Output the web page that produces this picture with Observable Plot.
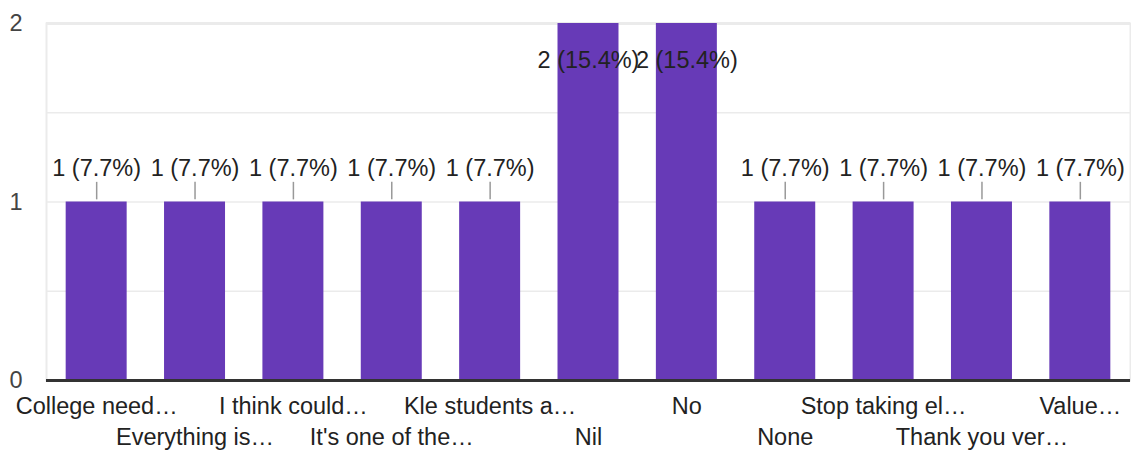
<!DOCTYPE html>
<html>
<head>
<meta charset="utf-8">
<script src="https://cdn.jsdelivr.net/npm/d3@7"></script>
<script src="https://cdn.jsdelivr.net/npm/@observablehq/plot@0.6"></script>
<style>
  html, body { margin: 0; padding: 0; background: #fff; }
  svg { display: block; }
</style>
</head>
<body>
<div id="chart"></div>
<script>
const categories = ["College need…", "Everything is…", "I think could…", "It's one of the…", "Kle students a…", "Nil", "No", "None", "Stop taking el…", "Thank you ver…", "Value…"];
const counts = [1, 1, 1, 1, 1, 2, 2, 1, 1, 1, 1];
const total = 13;
const yTicks = [0, 1, 2];
const gridLines = [0.5, 1, 1.5];

const data = categories.map((c, i) => ({cat: c, value: counts[i], row: i % 2}));
const label = d => `${d.value} (${(d.value / total * 100).toFixed(1)}%)`;
const low = data.filter(d => d.value < 2);
const high = data.filter(d => d.value >= 2);
const fontFamily = "'Liberation Sans', Arial, sans-serif";
const fs = 23.5;

const chart = Plot.plot({
  width: 1131,
  height: 453,
  marginLeft: 46,
  marginRight: 1,
  marginTop: 23,
  marginBottom: 73,
  style: {fontFamily, fontSize: "23.5px", color: "#444", background: "#fff", overflow: "visible"},
  x: {domain: categories, paddingInner: 0.38, paddingOuter: 0.2, round: false, axis: null},
  y: {domain: [0, 2], ticks: yTicks, tickSize: 0, tickPadding: 24, tickFormat: "d", label: null},
  marks: [
    Plot.frame({stroke: "#ebebeb", strokeWidth: 2}),
    Plot.ruleY(gridLines, {stroke: "#ebebeb", strokeWidth: 1.5}),
    Plot.ruleY([2], {stroke: "#ebebeb", strokeWidth: 3}),
    Plot.barY(data, {x: "cat", y: "value", fill: "#673ab7"}),
    Plot.ruleY([0], {stroke: "#333", strokeWidth: 3}),
    Plot.ruleX(low, {x: "cat", y1: d => d.value + 0.012, y2: d => d.value + 0.11, stroke: "#999", strokeWidth: 1.5}),
    Plot.text(low, {x: "cat", y: "value", text: label, dy: -34, fill: "#222", fontSize: fs, fontFamily}),
    Plot.text(high, {x: "cat", y: "value", text: label, dy: 37, fill: "#222", fontSize: fs, fontFamily}),
    Plot.text(data.filter(d => d.row === 0), {x: "cat", frameAnchor: "bottom", text: "cat", dy: 33, fill: "#222", fontSize: fs, fontFamily}),
    Plot.text(data.filter(d => d.row === 1), {x: "cat", frameAnchor: "bottom", text: "cat", dy: 64, fill: "#222", fontSize: fs, fontFamily})
  ]
});
document.getElementById("chart").appendChild(chart);
</script>
</body>
</html>
